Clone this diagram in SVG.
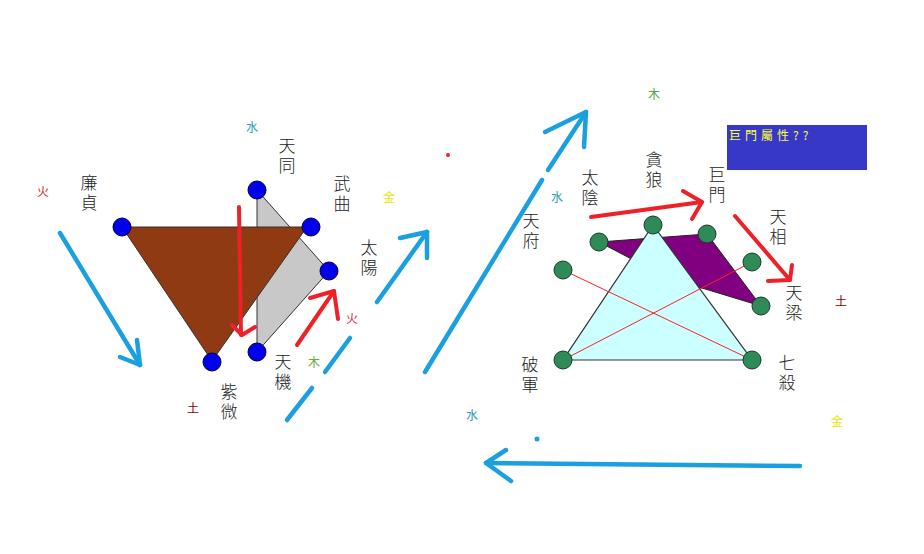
<svg xmlns="http://www.w3.org/2000/svg" width="924" height="554" viewBox="0 0 924 554">
<style>
.lbl{font-family:"Noto Sans CJK TC","Noto Sans CJK SC",sans-serif;font-size:17px;font-weight:300;fill:#222;text-anchor:middle;writing-mode:vertical-rl;letter-spacing:3px}
.el{font-family:"Noto Sans CJK TC","Noto Sans CJK SC",sans-serif;font-size:12px;text-anchor:middle}
.bnode{fill:#0000ee;stroke:#000033;stroke-width:1}
.gnode{fill:#2e8b57;stroke:#1a3a2a;stroke-width:1}
.red{fill:none;stroke:#ee2028;stroke-width:4;stroke-linecap:round;stroke-linejoin:round}
.blue{fill:none;stroke:#1aa0e0;stroke-width:4.5;stroke-linecap:round;stroke-linejoin:round}
.thin{stroke:#ff2020;stroke-width:1}
</style>
<rect width="924" height="554" fill="#ffffff"/>

<g id="connectors">
  <polygon points="257,190 329,271 257,352" fill="#c8c8c8" stroke="#333" stroke-width="1"/>
  <polygon points="122,227 307,227 212,361" fill="#8f3a12" stroke="#333" stroke-width="1"/>
  <polygon points="599,242 707,234 761,306 666,277" fill="#800080" stroke="#222" stroke-width="1"/>
  <polygon points="653,225 563,360 752,360" fill="#ccffff" stroke="#333" stroke-width="1.2"/>
  <line class="thin" x1="563" y1="270" x2="752" y2="360"/>
  <line class="thin" x1="752" y1="262" x2="563" y2="360"/>

  <polyline class="red" points="239,207 241,335"/>
  <polyline class="red" points="232,325 242,335 255,327"/>
  <polyline class="red" points="297,345 334,291"/>
  <polyline class="red" points="310,298 334,291 338,319"/>
  <polyline class="red" points="591,217 702,202"/>
  <polyline class="red" points="683,191 702,202 692,219"/>
  <polyline class="red" points="735,216 790,280"/>
  <polyline class="red" points="768,281 790,280 792,265"/>

  <polyline class="blue" points="60,233 140,365"/>
  <polyline class="blue" points="120,357 140,365 137,340"/>
  <line class="blue" x1="287" y1="420" x2="312" y2="388"/>
  <line class="blue" x1="325" y1="372" x2="350" y2="338"/>
  <line class="blue" x1="377" y1="302" x2="427" y2="232"/>
  <polyline class="blue" points="400,238 427,232 427,258"/>
  <line class="blue" x1="425" y1="372" x2="542" y2="180"/>
  <line class="blue" x1="548" y1="170" x2="586" y2="112"/>
  <polyline class="blue" points="545,132 586,112 584,147"/>
  <polyline class="blue" points="800,466 486,463"/>
  <polyline class="blue" points="506,450 486,463 511,481"/>
  <circle cx="537" cy="439" r="2.5" fill="#1aa0e0"/>
  <circle cx="448" cy="155" r="2" fill="#ee2028"/>
</g>

<g id="n-lianzhen"><circle class="bnode" cx="122" cy="227" r="9"/><text class="lbl" x="89" y="194">廉貞</text></g>
<g id="n-wuqu"><circle class="bnode" cx="311" cy="227" r="9"/><text class="lbl" x="342" y="195">武曲</text></g>
<g id="n-ziwei"><circle class="bnode" cx="212" cy="362" r="9"/><text class="lbl" x="229" y="403">紫微</text></g>
<g id="n-tiantong"><circle class="bnode" cx="257" cy="190" r="9"/><text class="lbl" x="287" y="157">天同</text></g>
<g id="n-taiyang"><circle class="bnode" cx="329" cy="271" r="9"/><text class="lbl" x="369" y="259">太陽</text></g>
<g id="n-tianji"><circle class="bnode" cx="257" cy="352" r="9"/><text class="lbl" x="283" y="373">天機</text></g>

<g id="n-tanlang"><circle class="gnode" cx="653" cy="225" r="9"/><text class="lbl" x="654" y="171">貪狼</text></g>
<g id="n-taiyin"><circle class="gnode" cx="599" cy="242" r="9"/><text class="lbl" x="590" y="189">太陰</text></g>
<g id="n-jumen"><circle class="gnode" cx="707" cy="234" r="9"/><text class="lbl" x="717" y="186">巨門</text></g>
<g id="n-tianfu"><circle class="gnode" cx="563" cy="270" r="9"/><text class="lbl" x="531" y="232">天府</text></g>
<g id="n-tianxiang"><circle class="gnode" cx="752" cy="262" r="9"/><text class="lbl" x="778" y="228">天相</text></g>
<g id="n-tianliang"><circle class="gnode" cx="761" cy="306" r="9"/><text class="lbl" x="794" y="304">天梁</text></g>
<g id="n-pojun"><circle class="gnode" cx="563" cy="360" r="9"/><text class="lbl" x="530" y="376">破軍</text></g>
<g id="n-qisha"><circle class="gnode" cx="752" cy="360" r="9"/><text class="lbl" x="787" y="374">七殺</text></g>

<g id="elements">
  <text class="el" x="252" y="132" fill="#1fa0b8">水</text>
  <text class="el" x="43" y="196" fill="#e02828">火</text>
  <text class="el" x="389" y="202" fill="#e6e600">金</text>
  <text class="el" x="352" y="323" fill="#e03050">火</text>
  <text class="el" x="314" y="367" fill="#66b030">木</text>
  <text class="el" x="193" y="413" fill="#800000">土</text>
  <text class="el" x="654" y="99" fill="#4aa844">木</text>
  <text class="el" x="557" y="202" fill="#1fa0b8">水</text>
  <text class="el" x="841" y="306" fill="#800000">土</text>
  <text class="el" x="472" y="420" fill="#1fa0b8">水</text>
  <text class="el" x="837" y="426" fill="#e6e600">金</text>
</g>

<g id="note">
  <rect x="727" y="125" width="140" height="45" fill="#3838c8"/>
  <text x="729" y="140" font-family="'Noto Sans CJK TC','Noto Sans CJK SC',sans-serif" font-size="12" letter-spacing="4" fill="#ffff33">巨門屬性??</text>
</g>
</svg>
